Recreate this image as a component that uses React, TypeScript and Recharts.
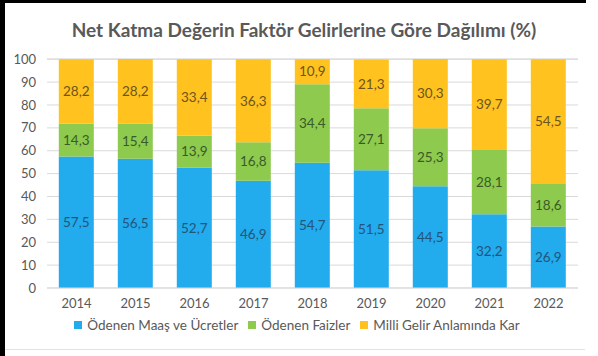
import React from "react";
import { BarChart, Bar, XAxis, YAxis, CartesianGrid, LabelList } from "recharts";

const years = ["2014", "2015", "2016", "2017", "2018", "2019", "2020", "2021", "2022"];
const wages = [57.5, 56.5, 52.7, 46.9, 54.7, 51.5, 44.5, 32.2, 26.9];
const interest = [14.3, 15.4, 13.9, 16.8, 34.4, 27.1, 25.3, 28.1, 18.6];
const profit = [28.2, 28.2, 33.4, 36.3, 10.9, 21.3, 30.3, 39.7, 54.5];
const yTicks = [0, 10, 20, 30, 40, 50, 60, 70, 80, 90, 100];
const seriesNames = ["Ödenen Maaş ve Ücretler", "Ödenen Faizler", "Milli Gelir Anlamında Kar"];
const seriesColors = ["#22ABED", "#8DCA4E", "#FFC21E"];

const data = years.map((year, i) => ({
  year,
  wages: wages[i],
  interest: interest[i],
  profit: profit[i],
}));

const font = "Lato, 'Open Sans', sans-serif";
const fmt = (v: unknown) => String(v).replace(".", ",");

export default function App() {
  return (
    <div
      style={{
        position: "absolute",
        left: 0,
        top: 0,
        width: 598,
        height: 356,
        background: "#fff",
        fontFamily: font,
        overflow: "hidden",
      }}
    >
      <div style={{ position: "absolute", left: 0, top: 0, width: 5, height: 356, background: "#000" }} />
      <div style={{ position: "absolute", left: 0, top: 0, width: 586, height: 3, background: "#000" }} />
      <div style={{ position: "absolute", left: 5, top: 349, width: 580, height: 1, background: "#e2e2e2" }} />
      <div
        style={{
          position: "absolute",
          left: 0,
          top: 18,
          width: 608,
          textAlign: "center",
          fontSize: 19,
          fontWeight: 700,
          color: "#595959",
        }}
      >
        Net Katma Değerin Faktör Gelirlerine Göre Dağılımı (%)
      </div>
      <BarChart
        width={598}
        height={356}
        data={data}
        margin={{ top: 59, right: 20, bottom: 38, left: 0 }}
        barCategoryGap="20%"
        style={{ position: "absolute", left: 0, top: 0 }}
      >
        <CartesianGrid vertical={false} stroke="#d9d9d9" />
        <XAxis
          dataKey="year"
          height={30}
          axisLine={{ stroke: "#d9d9d9" }}
          tickLine={false}
          tick={{ fill: "#595959", fontSize: 13, fontFamily: font }}
          tickMargin={5}
        />
        <YAxis
          width={47}
          domain={[0, 100]}
          ticks={yTicks}
          interval={0}
          axisLine={false}
          tickLine={false}
          tick={{ fill: "#595959", fontSize: 13, fontFamily: font }}
          tickMargin={5}
        />
        <Bar dataKey="wages" name={seriesNames[0]} stackId="a" fill={seriesColors[0]} isAnimationActive={false}>
          <LabelList dataKey="wages" position="center" formatter={fmt} fill="#23557A" fontSize={13.5} fontFamily={font} />
        </Bar>
        <Bar dataKey="interest" name={seriesNames[1]} stackId="a" fill={seriesColors[1]} isAnimationActive={false}>
          <LabelList dataKey="interest" position="center" formatter={fmt} fill="#3A5A28" fontSize={13.5} fontFamily={font} />
        </Bar>
        <Bar dataKey="profit" name={seriesNames[2]} stackId="a" fill={seriesColors[2]} isAnimationActive={false}>
          <LabelList dataKey="profit" position="center" formatter={fmt} fill="#6B5520" fontSize={13.5} fontFamily={font} />
        </Bar>
      </BarChart>
      <div
        style={{
          position: "absolute",
          left: 0,
          top: 317,
          width: 594,
          display: "flex",
          justifyContent: "center",
          gap: 10,
          fontSize: 13.5,
          color: "#595959",
        }}
      >
        {seriesNames.map((name, i) => (
          <span key={name} style={{ display: "flex", alignItems: "center" }}>
            <span style={{ width: 8, height: 8, background: seriesColors[i], marginRight: 5 }} />
            {name}
          </span>
        ))}
      </div>
    </div>
  );
}
